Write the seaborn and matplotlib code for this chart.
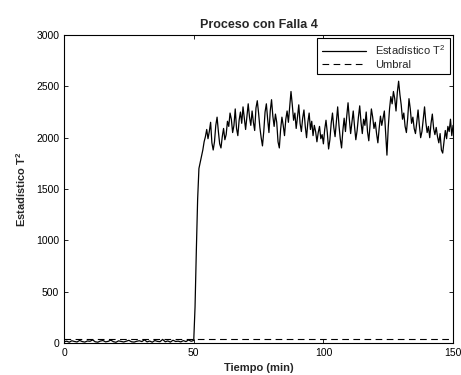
import matplotlib

matplotlib.use("Agg")
import matplotlib.pyplot as plt
import numpy as np
import pandas as pd
import seaborn as sns

# T^2 statistic before the fault (1 min sampling, t = 0..49)
t2_normal = [12, 18, 8, 22, 15, 10, 25, 14, 9, 20, 17, 30, 12, 8, 19, 24, 11, 16,
             28, 13, 7, 21, 15, 10, 18, 26, 12, 9, 17, 22, 14, 31, 11, 19, 8, 24,
             16, 13, 35, 12, 20, 9, 27, 15, 18, 11, 23, 14, 30, 17]

# T^2 statistic after the fault (0.5 min sampling, t = 50..150)
t2_fault = [
    25, 350, 900, 1400, 1700, 1760, 1820, 1880, 1960, 2010,
    2080, 1990, 2060, 2150, 1950, 1880, 1960, 2120, 2200, 2060,
    1940, 1900, 2010, 2090, 1980, 2030, 2160, 2110, 2240, 2180,
    2050, 2120, 2280, 2090, 2020, 2170, 2250, 2140, 2300, 2190,
    2080, 2210, 2330, 2200, 2120, 2260, 2150, 2070, 2290, 2360,
    2240, 2100, 2000, 1920, 2060, 2250, 2330, 2180, 2050, 2260,
    2370, 2210, 2110, 2230, 2150, 1960, 1900, 2080, 2200, 2120,
    2020, 2180, 2260, 2150, 2300, 2450, 2320, 2170, 2240, 2090,
    2200, 2320, 2140, 2060, 2190, 2270, 2110, 2000, 2150, 2240,
    2080, 2160, 2020, 2120, 2060, 1960, 2050, 2110, 1990, 2030,
    1940, 2080, 2170, 2050, 1890, 1980, 2140, 2240, 2100, 2010,
    2160, 2300, 2120, 1990, 1900, 2070, 2190, 2060, 2210, 2340,
    2180, 2040, 2150, 2260, 2110, 1980, 2070, 2200, 2310, 2150,
    2040, 2180, 2120, 2250, 2060, 1970, 2130, 2280, 2200, 2090,
    2150, 2040, 1950, 2090, 2210, 2120, 2190, 2260, 2050, 1830,
    2100, 2280, 2400, 2330, 2450, 2380, 2260, 2440, 2550, 2420,
    2320, 2180, 2240, 2110, 2050, 2190, 2380, 2280, 2140, 2200,
    2090, 2040, 2150, 2270, 2120, 2000, 2060, 2180, 2300, 2150,
    2050, 2110, 2000, 2140, 2230, 2090, 2030, 2100, 2010, 1950,
    2040, 1880, 1850, 1960, 2070, 1990, 2110, 2060, 2180, 2020,
    2120,
]

umbral = 35
x_ticks = [0, 50, 100, 150]
y_ticks = [0, 500, 1000, 1500, 2000, 2500, 3000]

tiempo = np.concatenate([np.arange(len(t2_normal)), 50 + 0.5 * np.arange(len(t2_fault))])
df = pd.DataFrame({"Tiempo": tiempo, "T2": t2_normal + t2_fault})

sns.set_style("ticks")
plt.rcParams["font.family"] = ["Liberation Sans", "DejaVu Sans"]
plt.rcParams["mathtext.default"] = "regular"

fig = plt.figure(figsize=(4.61, 3.75), dpi=100)
ax = fig.add_axes([0.139, 0.0853, 0.8438, 0.8213])

sns.lineplot(data=df, x="Tiempo", y="T2", ax=ax, color="black", linewidth=0.9,
             label="Estadístico T$^2$")
ax.axhline(umbral, color="black", linestyle=(0, (6, 4)), linewidth=0.8, label="Umbral")

ax.set_xlim(0, 150)
ax.set_ylim(0, 3000)
ax.set_xticks(x_ticks)
ax.set_yticks(y_ticks)
ax.tick_params(direction="in", top=True, right=True, labelsize=7.5, length=3,
               width=0.6, colors="black")
for s in ax.spines.values():
    s.set_linewidth(0.8)
    s.set_color("black")

ax.set_title("Proceso con Falla 4", fontsize=9, fontweight="bold", pad=5)
ax.set_xlabel("Tiempo (min)", fontsize=8, fontweight="bold", labelpad=4)
ax.set_ylabel("Estadístico T$^2$", fontsize=8, fontweight="bold", labelpad=6)

leg = ax.legend(loc="upper right", fontsize=8, frameon=True, fancybox=False,
                edgecolor="black", framealpha=1, borderaxespad=0.3,
                handlelength=4, labelspacing=0.3, borderpad=0.4)
leg.get_frame().set_linewidth(0.8)

fig.savefig("out.png", dpi=100)
